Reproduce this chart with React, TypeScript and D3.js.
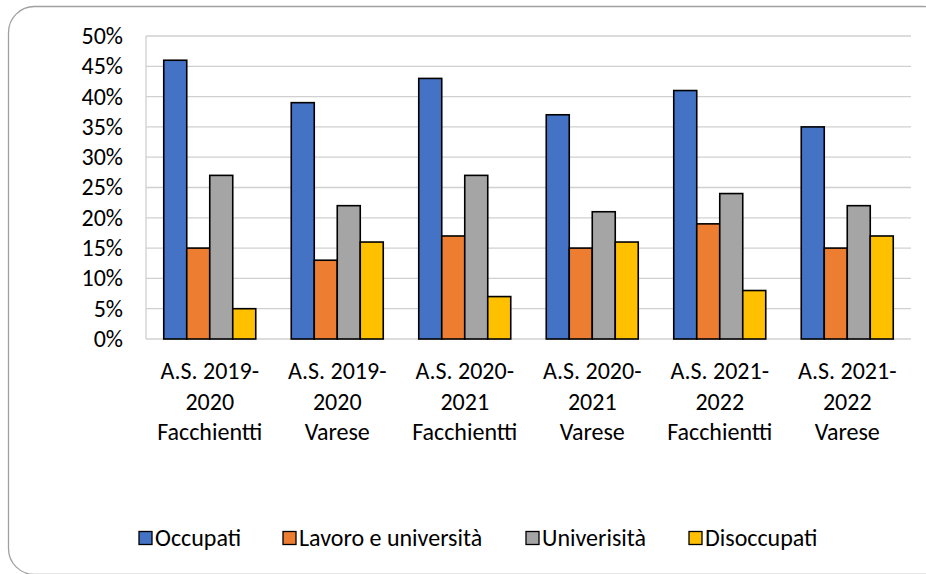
import React from "react";
import * as d3 from "d3";

const categories = [
  ["A.S. 2019-", "2020", "Facchientti"],
  ["A.S. 2019-", "2020", "Varese"],
  ["A.S. 2020-", "2021", "Facchientti"],
  ["A.S. 2020-", "2021", "Varese"],
  ["A.S. 2021-", "2022", "Facchientti"],
  ["A.S. 2021-", "2022", "Varese"],
];
const seriesNames = ["Occupati", "Lavoro e università", "Univerisità", "Disoccupati"];
const occupati = [46, 39, 43, 37, 41, 35];
const lavoro = [15, 13, 17, 15, 19, 15];
const universita = [27, 22, 27, 21, 24, 22];
const disoccupati = [5, 16, 7, 16, 8, 17];
const yTicks = [0, 5, 10, 15, 20, 25, 30, 35, 40, 45, 50];

const seriesValues = [occupati, lavoro, universita, disoccupati];
const colors = ["#4472c4", "#ed7d31", "#a5a5a5", "#ffc000"];

const W = 926;
const H = 574;
const left = 146;
const right = 911;
const top = 36;
const bottom = 339;
const font = "Carlito, Calibri, Lato, sans-serif";
const fs = 24;

const App = () => {
  const catIdx = categories.map((_, i) => String(i));
  const x0 = d3.scaleBand().domain(catIdx).range([left, right]).paddingInner(0).paddingOuter(0);
  const groupW = 92;
  const x1 = d3.scaleBand().domain(seriesNames).range([0, groupW]);
  const y = d3.scaleLinear().domain([0, 50]).range([bottom, top]);

  // legend marker x positions
  const legendX = [139, 283, 526, 689];
  const legendY = 538;

  return (
    <svg
      width={W}
      height={H}
      style={{ position: "absolute", left: 0, top: 0, background: "#fff" }}
      fontFamily={font}
    >
      <rect x={8.5} y={6.5} width={940} height={568} rx={26} fill="#fff" stroke="#a0a0a0" strokeWidth={1.3} />

      {/* gridlines */}
      {yTicks.map((t) => (
        <line key={t} x1={left} x2={right} y1={y(t)} y2={y(t)} stroke="#d0d0d0" strokeWidth={1.3} />
      ))}
      <line x1={left} x2={left} y1={top} y2={bottom} stroke="#d0d0d0" strokeWidth={1.3} />

      {/* y labels */}
      {yTicks.map((t) => (
        <text key={t} x={123} y={y(t)} dy="0.33em" textAnchor="end" fontSize={fs} fill="#000">
          {t}%
        </text>
      ))}

      {/* bars */}
      {categories.map((_, ci) => {
        const gx = x0(String(ci))! + (x0.bandwidth() - groupW) / 2;
        return (
          <g key={ci}>
            {seriesNames.map((s, si) => (
              <rect
                key={s}
                x={gx + x1(s)!}
                y={y(seriesValues[si][ci])}
                width={x1.bandwidth()}
                height={bottom - y(seriesValues[si][ci])}
                fill={colors[si]}
                stroke="#000"
                strokeWidth={1.6}
              />
            ))}
          </g>
        );
      })}

      {/* x labels */}
      {categories.map((lines, ci) => {
        const cx = x0(String(ci))! + x0.bandwidth() / 2;
        return (
          <text key={ci} x={cx} textAnchor="middle" fontSize={fs} fill="#000">
            {lines.map((l, li) => (
              <tspan key={li} x={cx} y={379 + li * 30.7}>
                {l}
              </tspan>
            ))}
          </text>
        );
      })}

      {/* legend */}
      {seriesNames.map((s, si) => (
        <g key={s}>
          <rect
            x={legendX[si]}
            y={legendY - 6.5}
            width={13}
            height={13}
            fill={colors[si]}
            stroke="#000"
            strokeWidth={1.3}
          />
          <text x={legendX[si] + 16} y={legendY} dy="0.33em" fontSize={fs} fill="#000">
            {s}
          </text>
        </g>
      ))}
    </svg>
  );
};

export default App;
